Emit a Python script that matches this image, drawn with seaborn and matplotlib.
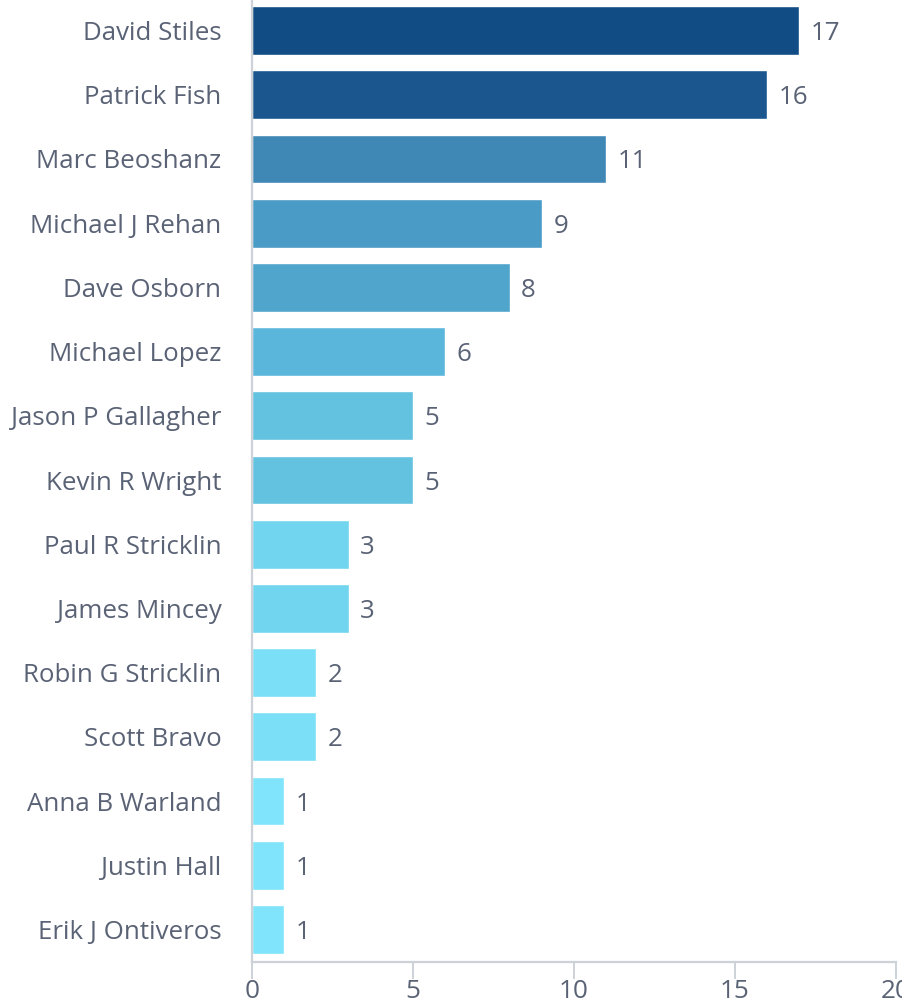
import matplotlib
matplotlib.use("Agg")
import matplotlib.pyplot as plt
import seaborn as sns
import pandas as pd

names = ["David Stiles", "Patrick Fish", "Marc Beoshanz", "Michael J Rehan",
         "Dave Osborn", "Michael Lopez", "Jason P Gallagher", "Kevin R Wright",
         "Paul R Stricklin", "James Mincey", "Robin G Stricklin", "Scott Bravo",
         "Anna B Warland", "Justin Hall", "Erik J Ontiveros"]
counts = [17, 16, 11, 9, 8, 6, 5, 5, 3, 3, 2, 2, 1, 1, 1]
colors = ["#124c84", "#1b578e", "#3f88b5", "#4a9bc5", "#50a5cd", "#5bb6db",
          "#63c2e0", "#63c2e0", "#72d5ef", "#72d5ef", "#7adff7", "#7adff7",
          "#80e4fc", "#80e4fc", "#80e4fc"]
x_ticks = [0, 5, 10, 15, 20]

df = pd.DataFrame({"name": names, "count": counts})

sns.set_theme(style="white")
plt.rcParams["font.family"] = ["Open Sans", "DejaVu Sans"]
text_color = "#5a6275"
axis_color = "#cdd1d8"
fs = 18.6

fig = plt.figure(figsize=(9.02, 10.08), dpi=100)
ax = fig.add_axes([0.2794, 0.046, 0.9933 - 0.2794, 1.0016 - 0.046])

sns.barplot(data=df, x="count", y="name", hue="name", palette=colors,
            legend=False, width=0.76, saturation=1, ax=ax, orient="h")

for patch, v in zip(ax.patches, counts):
    y = patch.get_y() + patch.get_height() / 2
    ax.text(v + 0.36, y, str(v), va="center_baseline", ha="left",
            fontsize=fs, color=text_color)

ax.set_xlim(0, 20)
ax.set_xticks(x_ticks)
ax.set_xlabel("")
ax.set_ylabel("")

for side in ["top", "right"]:
    ax.spines[side].set_visible(False)
for side in ["left", "bottom"]:
    ax.spines[side].set_color(axis_color)
    ax.spines[side].set_linewidth(1.6)

ax.tick_params(axis="y", length=0, pad=22, labelsize=fs, labelcolor=text_color)
ax.tick_params(axis="x", length=12, width=1.4, color=axis_color, pad=0.5,
               labelsize=18.8, labelcolor=text_color, bottom=True)

fig.savefig("out.png", dpi=100)
